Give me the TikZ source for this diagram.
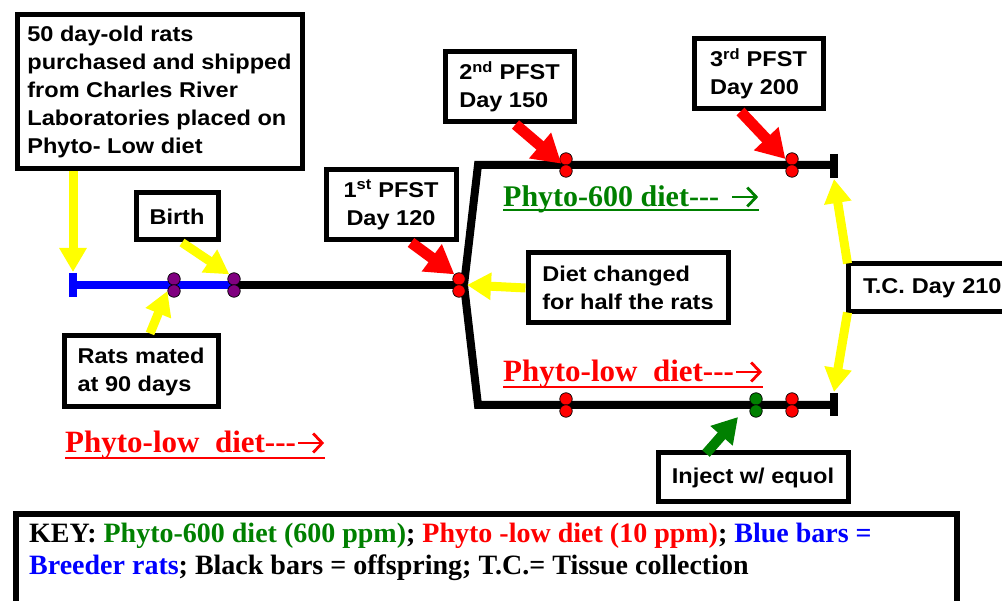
\documentclass[tikz,border=0pt]{standalone}
\usepackage{fontspec}
\setmainfont{Liberation Sans}[FakeStretch=1.1]
\newfontfamily\tnr{Liberation Serif}
\usetikzlibrary{arrows.meta,calc}
\definecolor{mygreen}{RGB}{0,128,0}
\definecolor{myred}{RGB}{255,0,0}
\definecolor{myblue}{RGB}{0,0,255}
\definecolor{myyellow}{RGB}{255,255,0}
\definecolor{mypurple}{RGB}{128,0,128}
\begin{document}
\begin{tikzpicture}[x=1pt,y=-1pt,
  box/.style={draw=black, line width=5pt, fill=white, inner sep=0pt, anchor=north west,
    font=\bfseries\fontsize{21.4}{28}\selectfont, align=left},
  bar/.style={line width=8pt, line cap=butt},
  tickbar/.style={line width=8pt, line cap=butt},
  dotc/.style={circle, draw=black, line width=0.7pt, minimum size=12.5pt, inner sep=0pt},
  rdot/.style={dotc, fill=myred},
  gdot/.style={dotc, fill=mygreen},
  pdot/.style={dotc, fill=mypurple},
  yarr/.style={draw=myyellow, line width=9pt, -{Triangle[width=26pt,length=24pt]}},
  rarr/.style={draw=myred, line width=11pt, -{Triangle[width=32pt,length=28pt]}},
  garr/.style={draw=mygreen, line width=10pt, -{Triangle[width=28pt,length=25pt]}},
  txtarr/.style={line width=2.8pt, -{Straight Barb[length=9pt,width=19pt]}},
  lbl/.style={inner sep=0pt, anchor=base west},
  dietfont/.style={font=\tnr\bfseries\fontsize{31}{31}\selectfont},
]
\clip (0,0) rectangle (1002,601);
\fill[white] (0,0) rectangle (1002,601);

% timeline coordinates
\coordinate (tB) at (73,285);
\coordinate (m1) at (174,285);
\coordinate (m2) at (234,285);
\coordinate (br) at (464,285);
\coordinate (tl) at (478,165);
\coordinate (tr) at (834,165);
\coordinate (bl) at (478,405);
\coordinate (brr) at (834,405);

% bars
\draw[bar, myblue] (tB) -- (m2);
\draw[tickbar, myblue] ($(tB)+(0,-12)$) -- ($(tB)+(0,12)$);
\draw[bar] (m2) -- (br);
\draw[bar, line join=miter] (tr) -- (tl) -- (br) -- (bl) -- (brr);
\draw[tickbar] ($(tr)+(0,-11)$) -- ($(tr)+(0,13)$);
\draw[tickbar] ($(brr)+(0,-12)$) -- ($(brr)+(0,11)$);

% dots
\node[pdot] (m1a) at (174,279) {};
\node[pdot] (m1b) at (174,291) {};
\node[pdot] (m2a) at (234,279) {};
\node[pdot] (m2b) at (234,291) {};
\node[rdot] (d1a) at (459,279) {};
\node[rdot] (d1b) at (459,291) {};
\node[rdot] (d2a) at (566,159) {};
\node[rdot] (d2b) at (566,171) {};
\node[rdot] (d3a) at (792,159) {};
\node[rdot] (d3b) at (792,171) {};
\node[rdot] (e1a) at (566,399) {};
\node[rdot] (e1b) at (566,411) {};
\node[gdot] (ga) at (756,399) {};
\node[gdot] (gb) at (756,411) {};
\node[rdot] (e3a) at (792,399) {};
\node[rdot] (e3b) at (792,411) {};

% boxes
\node[box, minimum width=285pt, minimum height=154pt] (b1) at (14.5,12.5)
  {50 day-old rats\\purchased and shipped\\from Charles River\\Laboratories placed on\\Phyto- Low diet};
\node[box, minimum width=82pt, minimum height=47pt] (birth) at (133.5,190.5) {Birth};
\node[box, minimum width=154pt, minimum height=71pt] (mated) at (61.5,333.5) {Rats mated\\at 90 days};
\node[box, minimum width=130pt, minimum height=70pt, align=center] (pfst1) at (323.5,167.5)
  {1\textsuperscript{st} PFST\\Day 120};
\node[box, minimum width=129pt, minimum height=70pt] (pfst2) at (442.5,49.5)
  {2\textsuperscript{nd} PFST\\Day 150};
\node[box, minimum width=129pt, minimum height=70pt] (pfst3) at (691.5,36.5)
  {3\textsuperscript{rd} PFST\\Day 200};
\node[box, minimum width=200pt, minimum height=70pt] (diet) at (525.5,250.5)
  {Diet changed\\for half the rats};
\node[box, minimum width=170pt, minimum height=48pt, text width=140pt, inner xsep=15pt] (tc) at (845.5,261.5)
  {T.C. Day 210};
\node[box, minimum width=190pt, minimum height=49pt] (inject) at (655.5,450.5) {Inject w/ equol};
\node[box, line width=6pt, minimum width=941pt, minimum height=110pt] (key) at (13,511) {};

% key text
\node[anchor=north west, align=left, inner sep=0pt, font=\tnr\bfseries\fontsize{28}{32}\selectfont] (keyt) at (29,523)
  {KEY: \textcolor{mygreen}{Phyto-600 diet (600 ppm)}; \textcolor{myred}{Phyto -low diet (10 ppm)}; \textcolor{myblue}{Blue bars =}\\
   \textcolor{myblue}{Breeder rats}; Black bars = offspring; T.C.= Tissue collection};

% diet labels
\node[lbl, text=mygreen, font=\tnr\bfseries\fontsize{30}{30}\selectfont] (g600) at (503,207) {Phyto-600 diet---};
\coordinate (g0) at ($(g600.base east)+(13,-10)$);
\coordinate (g1) at ($(g0)+(26,0)$);
\draw[txtarr, mygreen] (g0) -- (g1);
\draw[mygreen, line width=2pt] ($(g600.base west)+(0,3.5)$) -- ($(g1)+(1,13.5)$);

\node[lbl, text=myred, dietfont] (rlow) at (503,382) {Phyto-low\ \ diet---};
\coordinate (r0) at ($(rlow.base east)+(2,-10)$);
\coordinate (r1) at ($(r0)+(26,0)$);
\draw[txtarr, myred] (r0) -- (r1);
\draw[myred, line width=2pt] ($(rlow.base west)+(0,5)$) -- ($(r1)+(1,15)$);

\node[lbl, text=myred, dietfont] (llow) at (65,453) {Phyto-low\ \ diet---};
\coordinate (l0) at ($(llow.base east)+(2,-10)$);
\coordinate (l1) at ($(l0)+(26,0)$);
\draw[txtarr, myred] (l0) -- (l1);
\draw[myred, line width=2pt] ($(llow.base west)+(0,5)$) -- ($(l1)+(1,15)$);

% arrows
\draw[yarr] (b1.south -| tB) -- ($(tB)+(0,-13)$);
\draw[yarr] ($(birth.south)+(5,0)$) -- (m2a.north west);
\draw[yarr] ($(mated.north)+(9,0)$) -- (m1b.west);
\draw[rarr] ($(pfst1.south)+(20,0)$) -- (d1a.north west);
\draw[yarr] (diet.west) -- ($(br)+(3,0)$);
\draw[rarr] ($(pfst2.south)+(6,0)$) -- (d2a.south west);
\draw[rarr] ($(pfst3.south)+(-18,0)$) -- (d3a.west);
\draw[yarr] ($(tc.north west)+(2,2)$) -- ($(tr)+(0,14)$);
\draw[yarr] ($(tc.south west)+(2,-2)$) -- ($(brr)+(0,-13)$);
\coordinate (ip) at (738,417);
\draw[garr] ($(inject.north)+(-47,3)$) -- (ip);
\end{tikzpicture}
\end{document}
